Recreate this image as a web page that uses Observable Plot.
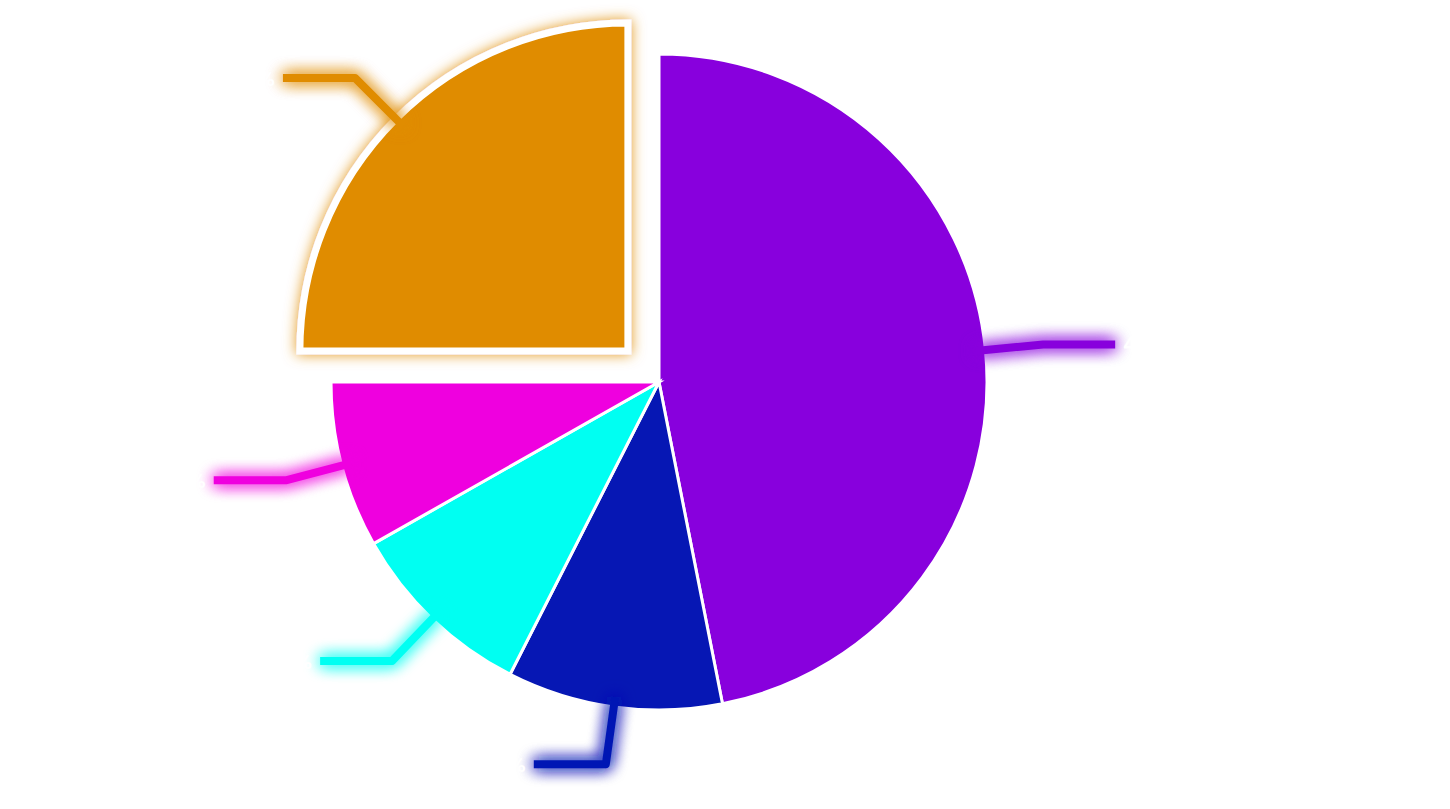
<!DOCTYPE html>
<html><head><meta charset="utf-8">
<script src="https://cdn.jsdelivr.net/npm/d3@7"></script>
<script src="https://cdn.jsdelivr.net/npm/@observablehq/plot@0.6"></script>
<style>html,body{margin:0;padding:0;background:#fff;overflow:hidden}</style>
</head><body><div id="chart"></div>
<script>
// Data (clockwise from 12 o'clock)
const categories = ["A", "B", "C", "D", "E"];
const values = [46.9, 10.6, 9.3, 8.2, 25.0];
const colors = ["#8800dd", "#0617b4", "#00fff2", "#ef00df", "#e08c00"];
const selected = ["E"];

const rows = categories.map((c, i) => ({category: c, value: values[i], color: colors[i]}));

const W = 1450, H = 809;
const cx = 659, cy = 382, R = 328;

function pieRender(index, scales, vals, dims, context) {
  const ox = scales.x(0), oy = scales.y(0);
  const r = scales.x(1) - scales.x(0);
  const total = d3.sum(rows, d => d.value);
  const arcs = d3.pie().sort(null).value(d => d.value)(rows);
  const arc = d3.arc().innerRadius(0).outerRadius(r);
  const g = d3.create("svg:g");
  const defs = g.append("defs");
  rows.forEach((d, i) => {
    const f = defs.append("filter").attr("id", "glow" + i)
      .attr("filterUnits", "userSpaceOnUse")
      .attr("x", -W).attr("y", -H).attr("width", 3 * W).attr("height", 3 * H);
    f.append("feGaussianBlur").attr("in", "SourceGraphic").attr("stdDeviation", 8).attr("result", "b");
    const m = f.append("feMerge");
    m.append("feMergeNode").attr("in", "b");
    m.append("feMergeNode").attr("in", "b");
    m.append("feMergeNode").attr("in", "SourceGraphic");
    const f2 = defs.append("filter").attr("id", "sglow" + i)
      .attr("x", "-20%").attr("y", "-20%").attr("width", "140%").attr("height", "140%");
    f2.append("feDropShadow").attr("dx", 0).attr("dy", 0).attr("stdDeviation", 7)
      .attr("flood-color", d.color).attr("flood-opacity", 0.9);
  });
  const off = 44;
  const pos = arcs.map(a => {
    const mid = (a.startAngle + a.endAngle) / 2;
    const ex = selected.includes(a.data.category);
    return {a, mid, ex, tx: ox + (ex ? off * Math.sin(mid) : 0), ty: oy - (ex ? off * Math.cos(mid) : 0)};
  });
  // slices
  pos.forEach((p, i) => {
    g.append("path")
      .attr("d", arc(p.a))
      .attr("transform", `translate(${p.tx},${p.ty})`)
      .attr("fill", p.a.data.color)
      .attr("stroke", "#fff")
      .attr("stroke-width", p.ex ? 7 : 3)
      .attr("stroke-linejoin", "miter")
      .attr("filter", p.ex ? `url(#sglow${i})` : null);
  });
  // leader lines + labels
  pos.forEach((p, i) => {
    const s = Math.sin(p.mid), c = -Math.cos(p.mid);
    const r0 = r - 10, r1 = r + 58, len2 = 72;
    const x0 = p.tx + r0 * s, y0 = p.ty + r0 * c;
    const x1 = p.tx + r1 * s, y1 = p.ty + r1 * c;
    const dir = s >= 0 ? 1 : -1;
    const x2 = x1 + dir * len2;
    g.append("path")
      .attr("d", `M${x0},${y0}L${x1},${y1}L${x2},${y1}`)
      .attr("fill", "none")
      .attr("stroke", p.a.data.color)
      .attr("stroke-width", 8)
      .attr("stroke-linejoin", "round")
      .attr("filter", `url(#glow${i})`);
    g.append("text")
      .attr("x", x2 + dir * 8).attr("y", y1)
      .attr("dy", "0.35em")
      .attr("text-anchor", dir > 0 ? "start" : "end")
      .attr("fill", "#fff")
      .attr("font-family", "Roboto, 'Noto Sans', sans-serif")
      .attr("font-size", 22)
      .attr("font-weight", "bold")
      .text(d3.format(".1f")(p.a.data.value / total * 100) + "%");
  });
  return g.node();
}

const chart = Plot.plot({
  width: W, height: H,
  margin: 0,
  x: {domain: [-cx / R, (W - cx) / R], range: [0, W], axis: null},
  y: {domain: [-(H - cy) / R, cy / R], range: [H, 0], axis: null},
  style: {background: "#fff", overflow: "visible"},
  marks: [
    Plot.dot([{x: 0, y: 0}], {x: "x", y: "y", render: pieRender})
  ]
});
document.getElementById("chart").appendChild(chart);
</script>
</body></html>
